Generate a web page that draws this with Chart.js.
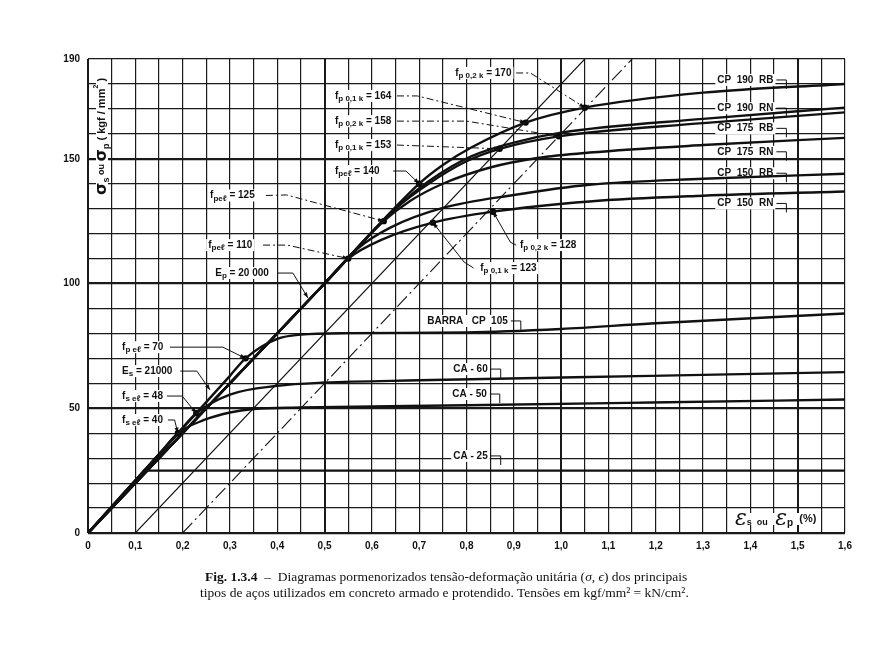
<!DOCTYPE html>
<html><head><meta charset="utf-8">
<script src="https://cdn.jsdelivr.net/npm/chart.js@4.4.1/dist/chart.umd.min.js"></script>
<style>
html,body{margin:0;padding:0;background:#fff;}
#wrap{position:relative;width:887px;height:663px;}
#cap{position:absolute;left:200px;top:569px;font:13.5px 'Liberation Serif',serif;color:#111;line-height:16px;white-space:nowrap;}
</style></head><body>
<div id="wrap"><canvas id="c" width="887" height="663"></canvas>
<div id="cap"><div style="padding-left:5px"><b>Fig. 1.3.4</b> &nbsp;– &nbsp;Diagramas pormenorizados tensão-deformação unitária (<i>σ</i>, <i>ϵ</i>) dos principais</div><div>tipos de aços utilizados em concreto armado e protendido. Tensões em kgf/mm² = kN/cm².</div></div>
</div>
<script>
// strain (%) / stress (kgf/mm2) pairs
const CA_25 = [[0,0],[0.119,25],[1.6,25]];
const CA_50 = [[0,0],[0.15,31.5],[0.19,40],[0.244,45.2],[0.3,48.3],[0.35,49.7],[0.45,50.3],[0.8,51.2],[1.19,52.3],[1.6,53.5]];
const CA_60 = [[0,0],[0.19,40],[0.229,48],[0.3,55.5],[0.4,59],[0.5,60.3],[0.7,61.2],[1.19,63],[1.6,64.5]];
const BARRA_105 = [[0,0],[0.3,63],[0.333,70],[0.4,77.8],[0.45,79.5],[0.55,80.1],[0.8,80.4],[1.0,81.8],[1.19,84],[1.6,88]];
const CP150_RN = [[0,0],[0.5,100],[0.55,110],[0.62,117.5],[0.729,124.4],[0.856,128.8],[1.06,132.9],[1.3,135.2],[1.6,136.9]];
const CP150_RB = [[0,0],[0.5,100],[0.57,114],[0.64,122.5],[0.75,130.3],[0.9,135.5],[1.06,139.6],[1.3,142],[1.6,144]];
const CP175_RN = [[0,0],[0.5,100],[0.625,125],[0.68,133],[0.75,140],[0.85,146.5],[0.95,150.3],[1.06,152.5],[1.3,155.5],[1.6,158.4]];
const CP175_RB = [[0,0],[0.5,100],[0.65,130],[0.72,140],[0.8,149],[0.87,154],[0.995,159],[1.3,164.3],[1.6,168.6]];
const CP190_RN = [[0,0],[0.5,100],[0.65,130],[0.72,141],[0.81,151],[0.9,156.5],[1.0,160.5],[1.3,166],[1.6,170.5]];
const CP190_RB = [[0,0],[0.5,100],[0.7,140],[0.75,147.5],[0.81,154.5],[0.925,164.5],[1.05,170.5],[1.3,176.5],[1.6,180]];
const OFFSET_01 = [[0.1,0],[1.05,190]];
const OFFSET_02 = [[0.2,0],[1.15,190]];
const MARKS = [[1.05,170.5],[0.925,164.5],[0.995,159],[0.87,154],[0.7,140],[0.625,125],[0.55,110],[0.856,128.8],[0.729,124.4],[0.333,70],[0.229,48],[0.19,40]];
const X_TICKS = [0,1.6,0.05];
const Y_TICKS = [0,190,10];

// annotation texts, anchored in data units
const NOTES = [
  {text:'f_{p 0,2 k} = 170', at:[0.776,184.4], lead:[[0.905,184.4],[0.935,184.4],[1.05,170.5]], dash:true},
  {text:'f_{p 0,1 k} = 164', at:[0.522,175.2], lead:[[0.653,175.2],[0.696,175.2],[0.925,164.5]], dash:true},
  {text:'f_{p 0,2 k} = 158', at:[0.522,165.1], lead:[[0.653,165.1],[0.80,165.1],[0.995,159]], dash:true},
  {text:'f_{p 0,1 k} = 153', at:[0.522,155.5], lead:[[0.653,155.5],[0.87,154]], dash:true},
  {text:'f_{peℓ} = 140', at:[0.522,145.1], lead:[[0.645,145.1],[0.672,145.1],[0.7,140]]},
  {text:'f_{peℓ} = 125', at:[0.258,135.3], lead:[[0.376,135.3],[0.42,135.5],[0.625,125]], dash:true},
  {text:'f_{peℓ} = 110', at:[0.254,115.4], lead:[[0.37,115.4],[0.421,115.4],[0.55,110]], dash:true},
  {text:'E_{p} = 20 000', at:[0.269,104.2], lead:[[0.40,104.2],[0.433,104.2],[0.465,94.2]]},
  {text:'f_{p 0,2 k} = 128', at:[0.913,115.4], lead:[[0.905,115.4],[0.893,116.5],[0.856,128.8]]},
  {text:'f_{p 0,1 k} = 123', at:[0.829,106.2], lead:[[0.815,106.2],[0.795,108.6],[0.729,124.4]]},
  {text:'f_{p eℓ} = 70', at:[0.072,74.5], lead:[[0.173,74.5],[0.285,74.5],[0.333,70]]},
  {text:'E_{s} = 21000', at:[0.072,64.9], lead:[[0.195,64.9],[0.23,64.9],[0.258,57.3]]},
  {text:'f_{s eℓ} = 48', at:[0.072,54.9], lead:[[0.167,54.9],[0.199,54.9],[0.229,48]]},
  {text:'f_{s eℓ} = 40', at:[0.072,45.3], lead:[[0.169,45.3],[0.183,45.3],[0.19,40]]},
  {text:'CP  190  RB', at:[1.33,181.6], hook:true},
  {text:'CP  190  RN', at:[1.33,170.3], hook:true},
  {text:'CP  175  RB', at:[1.33,162.2], hook:true},
  {text:'CP  175  RN', at:[1.33,152.8], hook:true},
  {text:'CP  150  RB', at:[1.33,144.2], hook:true},
  {text:'CP  150  RN', at:[1.33,132.1], hook:true},
  {text:'BARRA   CP  105', at:[0.717,85], hook:true},
  {text:'CA - 60', at:[0.772,65.7], hook:true},
  {text:'CA - 50', at:[0.77,55.7], hook:true},
  {text:'CA - 25', at:[0.772,30.9], hook:true}
];

const FONT = "'Liberation Sans', Arial, sans-serif";
const pts = a => a.map(([x,y]) => ({x,y}));
const curve = (d, extra) => Object.assign({data:pts(d), showLine:true, borderColor:'#111', borderWidth:2.4,
  pointRadius:0, cubicInterpolationMode:'monotone', fill:false}, extra||{});

function segsOf(text){
  const out=[]; const re=/_\{([^}]*)\}/g; let last=0, m;
  while((m=re.exec(text))){ if(m.index>last) out.push({t:text.slice(last,m.index)}); out.push({t:m[1],sub:true}); last=re.lastIndex; }
  if(last<text.length) out.push({t:text.slice(last)});
  return out;
}
function drawSegs(ctx, segs, x, y){
  let w=0;
  segs.forEach(s=>{ ctx.font=s.f; s.w=ctx.measureText(s.t).width; w+=s.w; });
  ctx.fillStyle='#fff'; ctx.fillRect(x-2, y-6, w+4, 12);
  ctx.fillStyle='#111'; ctx.textBaseline='middle'; ctx.textAlign='left';
  let cx=x; segs.forEach(s=>{ ctx.font=s.f; ctx.fillText(s.t, cx, y+(s.dy||0)); cx+=s.w; });
  return w;
}
function arrow(ctx,a,b){
  const ang=Math.atan2(b[1]-a[1],b[0]-a[0]), L=6;
  ctx.beginPath(); ctx.moveTo(b[0],b[1]);
  ctx.lineTo(b[0]-L*Math.cos(ang-0.35), b[1]-L*Math.sin(ang-0.35));
  ctx.lineTo(b[0]-L*Math.cos(ang+0.35), b[1]-L*Math.sin(ang+0.35));
  ctx.closePath(); ctx.fill();
}

const notesPlugin = {
  id:'notes',
  beforeDatasetsDraw(chart){
    const {ctx, chartArea:ca, scales:{x,y}} = chart;
    const P = ([a,b]) => [x.getPixelForValue(a), y.getPixelForValue(b)];
    ctx.save();
    ctx.strokeStyle='#111'; ctx.fillStyle='#111'; ctx.lineWidth=1;
    NOTES.forEach(n=>{
      if(!n.lead) return;
      const p=n.lead.map(P);
      ctx.setLineDash(n.dash?[7,3,2,3]:[]);
      ctx.beginPath(); p.forEach((q,i)=> i?ctx.lineTo(q[0],q[1]):ctx.moveTo(q[0],q[1])); ctx.stroke();
      ctx.setLineDash([]);
      arrow(ctx,p[p.length-2],p[p.length-1]);
    });
    NOTES.forEach(n=>{
      const [px,py]=P(n.at);
      const segs=segsOf(n.text).map(s=> s.sub?{t:s.t,f:'bold 8px '+FONT,dy:3}:{t:s.t,f:'bold 10px '+FONT});
      const w=drawSegs(ctx,segs,px,py);
      if(n.hook){
        ctx.strokeStyle='#111'; ctx.lineWidth=1; ctx.beginPath();
        ctx.moveTo(px+w+3,py); ctx.lineTo(px+w+13,py); ctx.lineTo(px+w+13,py+9); ctx.stroke();
      }
    });
    // y axis title, written upwards inside the plot
    ctx.save();
    ctx.translate(ca.left+14, ca.top+136); ctx.rotate(-Math.PI/2);
    const ySegs=[{t:'σ',f:'bold 16px DejaVu Sans'},{t:'s',f:'bold 9px '+FONT,dy:5},{t:' ou ',f:'bold 9px '+FONT},
      {t:'σ',f:'bold 16px DejaVu Sans'},{t:'p',f:'bold 9px '+FONT,dy:5},{t:' ( kgf / mm',f:'bold 11px '+FONT},
      {t:'2',f:'bold 7px '+FONT,dy:-6},{t:' )',f:'bold 11px '+FONT}];
    drawSegs(ctx,ySegs,0,0);
    ctx.restore();
    // x axis title
    const xSegs=[{t:'ε',f:'italic 22px DejaVu Serif'},{t:'s',f:'bold 9px '+FONT,dy:4},{t:'  ou   ',f:'bold 9px '+FONT,dy:4},
      {t:'ε',f:'italic 22px DejaVu Serif'},{t:'p',f:'bold 10px '+FONT,dy:4},{t:'  (%)',f:'bold 11px '+FONT}];
    drawSegs(ctx,xSegs,ca.right-110,ca.bottom-14);
    ctx.restore();
  }
};

new Chart(document.getElementById('c'), {
  type:'scatter',
  data:{datasets:[
    curve(CA_25,{tension:0, cubicInterpolationMode:'default'}),
    curve(CA_50), curve(CA_60), curve(BARRA_105),
    curve(CP150_RN), curve(CP150_RB), curve(CP175_RN), curve(CP175_RB), curve(CP190_RN), curve(CP190_RB),
    curve(OFFSET_01,{borderWidth:1.1, tension:0, cubicInterpolationMode:'default'}),
    curve(OFFSET_02,{borderWidth:1.1, tension:0, cubicInterpolationMode:'default', borderDash:[14,4,2,4]}),
    {data:pts(MARKS), showLine:false, pointRadius:3.2, pointBackgroundColor:'#000', pointBorderWidth:0}
  ]},
  options:{
    responsive:false, animation:false, events:[],
    layout:{padding:{left:48, top:59, right:42, bottom:100}},
    plugins:{legend:{display:false}, tooltip:{enabled:false}},
    scales:{
      x:{type:'linear', min:X_TICKS[0], max:X_TICKS[1],
        afterFit(s){ s.height=30; },
        ticks:{stepSize:X_TICKS[2], autoSkip:false, maxRotation:0, padding:7, color:'#111', font:{family:FONT, size:10, weight:'bold'},
          callback(v){ const k=Math.round(v*100); if(k%10) return ''; return k===0?'0':(k/100).toFixed(1).replace('.',','); }},
        grid:{color:'#1a1a1a', drawTicks:false, lineWidth:c=> (Math.round(c.tick.value*100)%50===0)?2:1.2},
        border:{display:false}},
      y:{min:Y_TICKS[0], max:Y_TICKS[1],
        afterFit(s){ s.width=40; },
        ticks:{stepSize:Y_TICKS[2], autoSkip:false, padding:8, color:'#111', font:{family:FONT, size:10, weight:'bold'},
          callback(v){ return (v%50===0 || v===190) ? String(v) : ''; }},
        grid:{color:'#1a1a1a', drawTicks:false, lineWidth:c=> (c.tick.value%50===0)?2.2:1.2},
        border:{display:false}}
    }
  },
  plugins:[notesPlugin]
});
</script>
</body></html>
